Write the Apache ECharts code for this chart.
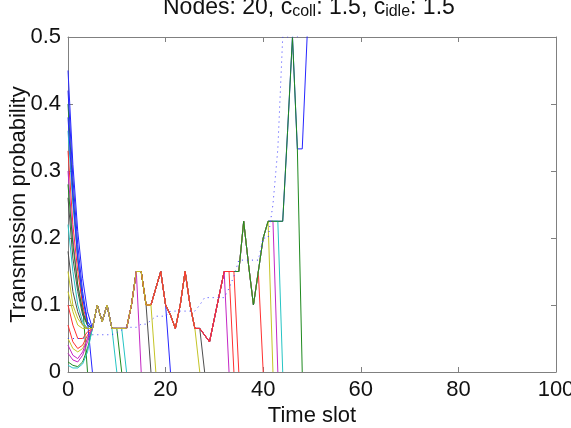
<!DOCTYPE html>
<html>
<head>
<meta charset="utf-8">
<script src="https://cdn.jsdelivr.net/npm/echarts@6/dist/echarts.min.js"></script>
<style>
  html, body { margin: 0; padding: 0; background: #fff; }
  #chart { width: 571px; height: 428px; }
</style>
</head>
<body>
<div id="chart"></div>
<script>
// MATLAB default colour order, series i gets lineColors[i % 7]
const lineColors = ['#2626ff', '#1f8a1f', '#ff3030', '#26c4c4', '#c426c4', '#c4c426', '#4d4d4d']

// probability of each node in the first slots (t = 0..4)
const startValues = [
  [0.45, 0.31, 0.21, 0.14, 0.09],
  [0.40, 0.27, 0.17, 0.10, 0.07],
  [0.33, 0.22, 0.15, 0.10, 0.07],
  [0.36, 0.25, 0.17, 0.11, 0.075],
  [0.30, 0.20, 0.13, 0.09, 0.07],
  [0.12, 0.09, 0.07, 0.065, 0.065],
  [0.26, 0.17, 0.12, 0.085, 0.07],
  [0.38, 0.26, 0.17, 0.11, 0.075],
  [0.28, 0.19, 0.13, 0.09, 0.07],
  [0.07, 0.045, 0.035, 0.04, 0.055],
  [0.22, 0.15, 0.10, 0.075, 0.065],
  [0.028, 0.018, 0.015, 0.025, 0.045],
  [0.05, 0.035, 0.03, 0.035, 0.05],
  [0.18, 0.12, 0.09, 0.07, 0.065],
  [0.42, 0.29, 0.19, 0.12, 0.075],
  [0.015, 0.01, 0.008, 0.015, 0.035],
  [0.10, 0.07, 0.05, 0.05, 0.06],
  [0.01, 0.006, 0.006, 0.012, 0.03],
  [0.04, 0.025, 0.02, 0.03, 0.05],
  [0.15, 0.10, 0.08, 0.07, 0.065]
]

// slot where each node is done (probability back to 0), null = still sending
const doneSlot = [null, 4, 40, 44, 43, 42, 28, 21, 48, 35, 12, 33, 27, 17, 5, 11, 34, 10, 15, 18]

// probability shared by the nodes still sending, t = 5..50
const sharedValues = [
  0.065, 0.1, 0.075, 0.1, 0.065, 0.065, 0.065, 0.065, 0.1, 0.15,
  0.15, 0.1, 0.1, 0.125, 0.15, 0.1, 0.085, 0.065, 0.1, 0.15,
  0.1, 0.065, 0.065, 0.055, 0.045, 0.08, 0.115, 0.15, 0.15, 0.15,
  0.15, 0.225, 0.16, 0.1, 0.15, 0.2, 0.225, 0.225, 0.225, 0.225,
  0.36, 0.5, 0.333, 0.333, 0.5, 1
]

// 1 / nodes still sending (dotted), t = 0..50
const fairValues = [
  0.05, 0.05, 0.05, 0.05, 0.0526,
  0.0556, 0.0556, 0.0556, 0.0556, 0.0556,
  0.0588, 0.0625, 0.0667, 0.0667, 0.0667,
  0.0714, 0.0714, 0.0769, 0.0833, 0.0833, 0.0833,
  0.0909, 0.0909, 0.0909, 0.0909, 0.0909, 0.0909,
  0.1, 0.111, 0.111, 0.111, 0.111, 0.111,
  0.125, 0.143, 0.167, 0.167, 0.167, 0.167, 0.167,
  0.2, 0.2, 0.25, 0.333,
  0.5, 0.5, 0.5, 0.5, 1, 1, 1
]

const font = 'Liberation Sans'
const axisGrey = '#808080'
const textColor = '#111'

function nodeData(i) {
  const out = []
  for (let t = 0; t < fairValues.length; t++) {
    if (doneSlot[i] !== null && t === doneSlot[i]) {
      out.push([t, 0])
      break
    }
    out.push([t, t < 5 ? startValues[i][t] : sharedValues[t - 5]])
  }
  return out
}

const series = startValues.map((s, i) => ({
  name: 'node' + (i + 1),
  type: 'line',
  showSymbol: false,
  clip: true,
  lineStyle: { width: 1, color: lineColors[i % 7] },
  data: nodeData(i)
}))

series.push({
  name: 'fair',
  type: 'line',
  showSymbol: false,
  clip: true,
  lineStyle: { width: 1, color: '#3a3aff', type: [1, 4] },
  data: fairValues.map((v, t) => [t, v])
})

const frameAxis = {
  axisLine: { onZero: false, lineStyle: { color: axisGrey, width: 1 } },
  axisTick: { inside: true, length: 5, lineStyle: { color: axisGrey } },
  splitLine: { show: false }
}

const chart = echarts.init(document.getElementById('chart'))
chart.setOption({
  animation: false,
  backgroundColor: '#fff',
  textStyle: { fontFamily: font },
  title: {
    text: 'Nodes: 20, c{sub|coll}: 1.5, c{sub|idle}: 1.5',
    left: 163,
    top: -4,
    padding: 0,
    textStyle: {
      fontFamily: font,
      fontSize: 23,
      fontWeight: 'normal',
      color: textColor,
      lineHeight: 24,
      verticalAlign: 'top',
      rich: {
        sub: { fontFamily: font, fontSize: 16, lineHeight: 17, color: textColor, padding: [16, 0, 0, 0], verticalAlign: 'bottom' }
      }
    }
  },
  grid: { left: 68, right: 15, top: 37, bottom: 56, outerBoundsMode: 'none' },
  xAxis: [
    Object.assign({
      type: 'value', min: 0, max: 100, interval: 20,
      name: 'Time slot', nameLocation: 'middle', nameGap: 33, nameMoveOverlap: false,
      nameTextStyle: { fontFamily: font, fontSize: 22, color: textColor },
      axisLabel: { fontFamily: font, fontSize: 22, color: textColor, margin: 7 }
    }, frameAxis),
    Object.assign({
      type: 'value', position: 'top', min: 0, max: 100, interval: 20,
      axisLabel: { show: false }
    }, frameAxis)
  ],
  yAxis: [
    Object.assign({
      type: 'value', min: 0, max: 0.5, interval: 0.1,
      name: 'Transmission probability', nameLocation: 'middle', nameGap: 38, nameMoveOverlap: false,
      nameTextStyle: { fontFamily: font, fontSize: 22, color: textColor },
      axisLabel: { fontFamily: font, fontSize: 22, color: textColor, margin: 7 }
    }, frameAxis),
    Object.assign({
      type: 'value', position: 'right', min: 0, max: 0.5, interval: 0.1,
      axisLabel: { show: false }
    }, frameAxis)
  ],
  series: series
})
</script>
</body>
</html>
